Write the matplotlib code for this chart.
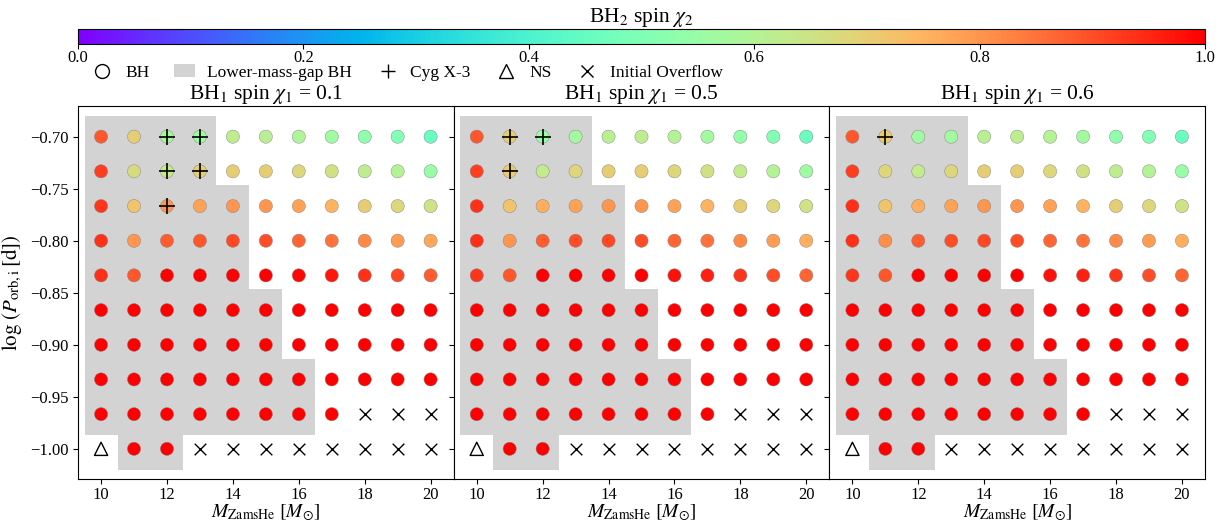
import numpy as np
import matplotlib
matplotlib.use("Agg")
import matplotlib.pyplot as plt
from matplotlib.lines import Line2D
from matplotlib.patches import Patch

plt.rcParams['font.family'] = ['Liberation Serif', 'DejaVu Serif']
plt.rcParams['mathtext.fontset'] = 'stix'
plt.rcParams['axes.unicode_minus'] = True

# grid of models
masses = [10, 11, 12, 13, 14, 15, 16, 17, 18, 19, 20]
log_p = [-0.7, -0.7333, -0.7667, -0.8, -0.8333, -0.8667, -0.9, -0.9333, -0.9667, -1.0]
chi1_values = [0.1, 0.5, 0.6]

# outcome per cell, rows top (-0.70) to bottom (-1.00): B = BH, X = initial overflow, N = NS
outcome = [
    "BBBBBBBBBBB",
    "BBBBBBBBBBB",
    "BBBBBBBBBBB",
    "BBBBBBBBBBB",
    "BBBBBBBBBBB",
    "BBBBBBBBBBB",
    "BBBBBBBBBBB",
    "BBBBBBBBBBB",
    "BBBBBBBBXXX",
    "NBBXXXXXXXX",
]

# lower-mass-gap BH cells (1 = shaded)
lower_gap = [
    "11110000000",
    "11110000000",
    "11111000000",
    "11111000000",
    "11111000000",
    "11111100000",
    "11111100000",
    "11111110000",
    "11111110000",
    "01100000000",
]

# BH2 spin chi2, rows top to bottom
chi2_a = [
    [0.89, 0.70, 0.58, 0.56, 0.62, 0.61, 0.59, 0.56, 0.53, 0.50, 0.46],
    [0.92, 0.67, 0.63, 0.70, 0.70, 0.70, 0.68, 0.66, 0.62, 0.60, 0.55],
    [0.93, 0.72, 0.80, 0.78, 0.80, 0.80, 0.78, 0.75, 0.70, 0.68, 0.65],
    [0.94, 0.80, 0.88, 0.89, 0.91, 0.90, 0.87, 0.85, 0.82, 0.79, 0.77],
    [0.94, 0.89, 1.00, 1.00, 1.00, 1.00, 0.99, 0.97, 0.94, 0.91, 0.88],
    [1.00, 1.00, 1.00, 1.00, 1.00, 1.00, 1.00, 1.00, 1.00, 1.00, 1.00],
    [1.00, 1.00, 1.00, 1.00, 1.00, 1.00, 1.00, 1.00, 1.00, 1.00, 1.00],
    [1.00, 1.00, 1.00, 1.00, 1.00, 1.00, 1.00, 1.00, 1.00, 1.00, 1.00],
    [1.00, 1.00, 1.00, 1.00, 1.00, 1.00, 1.00, 1.00, np.nan, np.nan, np.nan],
    [np.nan, 1.00, 1.00, np.nan, np.nan, np.nan, np.nan, np.nan, np.nan, np.nan, np.nan],
]
chi2_b = [
    [0.89, 0.70, 0.55, 0.57, 0.61, 0.62, 0.60, 0.57, 0.54, 0.50, 0.46],
    [0.92, 0.71, 0.63, 0.68, 0.70, 0.70, 0.68, 0.66, 0.63, 0.60, 0.56],
    [0.94, 0.72, 0.76, 0.78, 0.80, 0.80, 0.78, 0.75, 0.70, 0.68, 0.65],
    [0.94, 0.80, 0.88, 0.90, 0.91, 0.90, 0.87, 0.85, 0.82, 0.79, 0.76],
    [0.93, 0.89, 1.00, 1.00, 1.00, 1.00, 0.98, 0.96, 0.93, 0.90, 0.87],
    [1.00, 1.00, 1.00, 1.00, 1.00, 1.00, 1.00, 1.00, 1.00, 1.00, 1.00],
    [1.00, 1.00, 1.00, 1.00, 1.00, 1.00, 1.00, 1.00, 1.00, 1.00, 1.00],
    [1.00, 1.00, 1.00, 1.00, 1.00, 1.00, 1.00, 1.00, 1.00, 1.00, 1.00],
    [1.00, 1.00, 1.00, 1.00, 1.00, 1.00, 1.00, 1.00, np.nan, np.nan, np.nan],
    [np.nan, 1.00, 1.00, np.nan, np.nan, np.nan, np.nan, np.nan, np.nan, np.nan, np.nan],
]
chi2_c = [
    [0.89, 0.71, 0.56, 0.57, 0.61, 0.62, 0.60, 0.57, 0.53, 0.50, 0.46],
    [0.92, 0.68, 0.63, 0.68, 0.70, 0.70, 0.68, 0.66, 0.62, 0.60, 0.55],
    [0.94, 0.72, 0.76, 0.78, 0.80, 0.80, 0.78, 0.75, 0.70, 0.68, 0.65],
    [0.94, 0.81, 0.88, 0.90, 0.91, 0.90, 0.87, 0.85, 0.82, 0.79, 0.76],
    [0.93, 0.89, 1.00, 1.00, 1.00, 1.00, 0.98, 0.96, 0.93, 0.90, 0.87],
    [1.00, 1.00, 1.00, 1.00, 1.00, 1.00, 1.00, 1.00, 1.00, 1.00, 1.00],
    [1.00, 1.00, 1.00, 1.00, 1.00, 1.00, 1.00, 1.00, 1.00, 1.00, 1.00],
    [1.00, 1.00, 1.00, 1.00, 1.00, 1.00, 1.00, 1.00, 1.00, 1.00, 1.00],
    [1.00, 1.00, 1.00, 1.00, 1.00, 1.00, 1.00, 1.00, np.nan, np.nan, np.nan],
    [np.nan, 1.00, 1.00, np.nan, np.nan, np.nan, np.nan, np.nan, np.nan, np.nan, np.nan],
]
chi2_panels = [chi2_a, chi2_b, chi2_c]

# Cyg X-3 like systems (mass, logP)
cyg_a = [(12, -0.7), (13, -0.7), (12, -0.7333), (13, -0.7333), (12, -0.7667)]
cyg_b = [(11, -0.7), (12, -0.7), (11, -0.7333)]
cyg_c = [(11, -0.7)]
cyg_panels = [cyg_a, cyg_b, cyg_c]

W, H = 1225, 522
fig = plt.figure(figsize=(W / 100, H / 100), dpi=100)
cmap = plt.get_cmap('rainbow')
norm = matplotlib.colors.Normalize(0, 1)

left, right = 78, 1205
top, bottom = 106.5, 479
pw = (right - left) / 3

axes = []
for k in range(3):
    ax = fig.add_axes([(left + k * pw) / W, 1 - bottom / H, pw / W, (bottom - top) / H],
                      sharey=axes[0] if axes else None)
    axes.append(ax)

    xs, ys, cs = [], [], []
    ox, oy = [], []
    nx, ny = [], []
    for i, y in enumerate(log_p):
        for j, m in enumerate(masses):
            if lower_gap[i][j] == "1":
                ax.bar(m, 0.04, width=1.0, bottom=y - 0.02, color='lightgray',
                       linewidth=0, zorder=1)
            code = outcome[i][j]
            if code == "B":
                xs.append(m); ys.append(y); cs.append(chi2_panels[k][i][j])
            elif code == "X":
                ox.append(m); oy.append(y)
            else:
                nx.append(m); ny.append(y)

    ax.scatter(xs, ys, c=cs, cmap=cmap, norm=norm, s=90, edgecolors='gray',
               linewidths=0.3, zorder=3)
    ax.scatter(ox, oy, marker='x', color='black', s=70, linewidths=1.0, zorder=3)
    ax.scatter(nx, ny, marker='^', facecolors='none', edgecolors='black', s=90,
               linewidths=1.0, zorder=3)
    cx = [p[0] for p in cyg_panels[k]]
    cy = [p[1] for p in cyg_panels[k]]
    ax.scatter(cx, cy, marker='+', color='black', s=120, linewidths=1.2, zorder=4)

    ax.set_xlim(9.3, 20.7)
    ax.set_ylim(-1.029, -0.671)
    ax.set_xticks([10, 12, 14, 16, 18, 20])
    ax.set_yticks([-1.0, -0.95, -0.9, -0.85, -0.8, -0.75, -0.7])
    ax.tick_params(labelsize=12)
    ax.tick_params(axis='x', pad=2)
    ax.set_xlabel(r'$M_{\rm ZamsHe}\ [M_{\odot}]$', fontsize=14, labelpad=0)
    ax.set_title(r'BH$_1$ spin $\chi_1$ = %.1f' % chi1_values[k], fontsize=15.5, pad=4)
    if k == 0:
        ax.tick_params(right=True)
        ax.set_ylabel(r'$\log\,(P_{\rm orb,i}\,[{\rm d}])$', fontsize=15, labelpad=4)
    elif k == 1:
        ax.tick_params(labelleft=False, right=True)
    else:
        ax.tick_params(labelleft=False)

axes[0].yaxis.set_major_formatter(
    matplotlib.ticker.FuncFormatter(lambda v, p: ('%.2f' % v).replace('-', '\u2212')))

# colorbar on top
cax = fig.add_axes([left / W, 1 - 43.5 / H, (right - left) / W, 15 / H])
sm = matplotlib.cm.ScalarMappable(norm=norm, cmap=cmap)
cb = fig.colorbar(sm, cax=cax, orientation='horizontal')
cb.set_ticks([0.0, 0.2, 0.4, 0.6, 0.8, 1.0])
cb.ax.tick_params(labelsize=12, pad=1)
cb.set_label(r'BH$_2$ spin $\chi_2$', fontsize=15.5, labelpad=5)
cb.ax.xaxis.set_label_position('top')

handles = [
    Line2D([], [], marker='o', ls='none', markerfacecolor='none', markeredgecolor='black',
           markersize=10, label='BH'),
    Patch(facecolor='lightgray', label='Lower-mass-gap BH'),
    Line2D([], [], marker='+', ls='none', color='black', markersize=10, label='Cyg X-3'),
    Line2D([], [], marker='^', ls='none', markerfacecolor='none', markeredgecolor='black',
           markersize=10, label='NS'),
    Line2D([], [], marker='x', ls='none', color='black', markersize=9, label='Initial Overflow'),
]
fig.legend(handles=handles, loc='center left', bbox_to_anchor=(92 / W, 1 - 72.5 / H),
           ncol=5, frameon=False, fontsize=12.5, handlelength=1.2, handletextpad=0.7,
           columnspacing=1.45, borderaxespad=0, borderpad=0)

fig.savefig('out.png', dpi=100)
